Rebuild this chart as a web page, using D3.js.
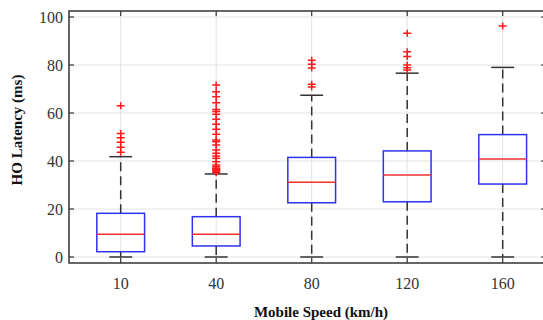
<!DOCTYPE html>
<html>
<head>
<meta charset="utf-8">
<script src="https://cdn.jsdelivr.net/npm/d3@7"></script>
<style>
  body { margin: 0; background: #fff; }
  svg { display: block; font-family: "Liberation Serif", "Times New Roman", serif; }
</style>
</head>
<body>
<div id="chart"></div>
<script>
// HO latency per mobile speed
const speeds = ['10', '40', '80', '120', '160'];
const q1 = [2.2, 4.6, 22.6, 23, 30.4];
const medians = [9.5, 9.5, 31.1, 34.2, 40.8];
const q3 = [18.2, 16.8, 41.5, 44.2, 51];
const whiskerLow = [0, 0, 0, 0, 0];
const whiskerHigh = [41.8, 34.6, 67.4, 76.6, 79];
const outliers = [
  [63, 51.5, 49.7, 47.8, 45.7, 43.6],
  [71.7, 68.9, 66.8, 64.3, 61.5, 60.6, 59.5, 57.4, 55.3, 53.2, 51.1, 48.75, 48, 46.7,
   44.6, 43.2, 42.1, 41.1, 39.7, 38.3, 37.6, 37, 36.6, 36.2, 35.8, 35.4, 35.1],
  [82, 80.3, 78.8, 72, 70.8],
  [93.2, 85.5, 83.5, 80, 78.9, 77.9],
  [96.3]
];
const yTicks = [0, 20, 40, 60, 80, 100];

const width = 543, height = 320;
const plotLeft = 69, plotTop = 11, plotRight = 546, plotBottom = 263;

const svg = d3.select('#chart').append('svg')
    .attr('width', width)
    .attr('height', height);

const x = d3.scaleLinear().domain([1, 5]).range([120.7, 502.7]);
const y = d3.scaleLinear().domain([-2.5, 102.5]).range([plotBottom, plotTop]);
const unit = x(2) - x(1);

// grid
svg.append('g').selectAll('line')
    .data(yTicks)
  .enter().append('line')
    .attr('x1', plotLeft).attr('x2', plotRight)
    .attr('y1', d => y(d)).attr('y2', d => y(d))
    .attr('stroke', '#e3e3e3').attr('stroke-width', 1);

svg.append('g').selectAll('line')
    .data(speeds)
  .enter().append('line')
    .attr('x1', (d, i) => x(i + 1)).attr('x2', (d, i) => x(i + 1))
    .attr('y1', plotTop).attr('y2', plotBottom)
    .attr('stroke', '#e3e3e3').attr('stroke-width', 1);

const groups = svg.append('g').selectAll('g.box')
    .data(speeds)
  .enter().append('g')
    .attr('class', 'box');

// whiskers
groups.append('line')
    .attr('x1', (d, i) => x(i + 1)).attr('x2', (d, i) => x(i + 1))
    .attr('y1', (d, i) => y(q3[i])).attr('y2', (d, i) => y(whiskerHigh[i]))
    .attr('stroke', '#333').attr('stroke-width', 1.5)
    .attr('stroke-dasharray', '9,5');

groups.append('line')
    .attr('x1', (d, i) => x(i + 1)).attr('x2', (d, i) => x(i + 1))
    .attr('y1', (d, i) => y(q1[i])).attr('y2', (d, i) => y(whiskerLow[i]))
    .attr('stroke', '#333').attr('stroke-width', 1.5)
    .attr('stroke-dasharray', '9,5');

[whiskerHigh, whiskerLow].forEach(arr => {
  groups.append('line')
      .attr('x1', (d, i) => x(i + 1) - unit * 0.12)
      .attr('x2', (d, i) => x(i + 1) + unit * 0.12)
      .attr('y1', (d, i) => y(arr[i])).attr('y2', (d, i) => y(arr[i]))
      .attr('stroke', '#333').attr('stroke-width', 1.5);
});

groups.append('rect')
    .attr('x', (d, i) => x(i + 1) - unit * 0.25)
    .attr('width', unit * 0.5)
    .attr('y', (d, i) => y(q3[i]))
    .attr('height', (d, i) => y(q1[i]) - y(q3[i]))
    .attr('fill', 'none')
    .attr('stroke', '#3030f0').attr('stroke-width', 1.5);

groups.append('line')
    .attr('x1', (d, i) => x(i + 1) - unit * 0.25)
    .attr('x2', (d, i) => x(i + 1) + unit * 0.25)
    .attr('y1', (d, i) => y(medians[i])).attr('y2', (d, i) => y(medians[i]))
    .attr('stroke', '#f03030').attr('stroke-width', 1.5);

// outliers as '+'
groups.each(function(d, i) {
  const cx = x(i + 1);
  d3.select(this).selectAll('path')
      .data(outliers[i])
    .enter().append('path')
      .attr('d', v => `M${cx - 4},${y(v)}H${cx + 4}M${cx},${y(v) - 3.5}V${y(v) + 3.5}`)
      .attr('stroke', '#ff1a1a').attr('stroke-width', 1.5)
      .attr('fill', 'none');
});

// frame
svg.append('rect')
    .attr('x', plotLeft).attr('y', plotTop)
    .attr('width', plotRight - plotLeft).attr('height', plotBottom - plotTop)
    .attr('fill', 'none').attr('stroke', '#333').attr('stroke-width', 1.5);

// inward ticks
const tickG = svg.append('g').attr('stroke', '#333').attr('stroke-width', 1.2);
yTicks.forEach(v => {
  tickG.append('line').attr('x1', plotLeft).attr('x2', plotLeft + 5).attr('y1', y(v)).attr('y2', y(v));
  tickG.append('line').attr('x1', plotRight).attr('x2', plotRight - 5).attr('y1', y(v)).attr('y2', y(v));
});
speeds.forEach((s, i) => {
  tickG.append('line').attr('x1', x(i + 1)).attr('x2', x(i + 1)).attr('y1', plotTop).attr('y2', plotTop + 5);
  tickG.append('line').attr('x1', x(i + 1)).attr('x2', x(i + 1)).attr('y1', plotBottom).attr('y2', plotBottom - 5);
});

// tick labels
svg.append('g').selectAll('text')
    .data(yTicks)
  .enter().append('text')
    .attr('x', plotLeft - 6)
    .attr('y', d => y(d) + 5.5)
    .attr('text-anchor', 'end')
    .attr('font-size', 16)
    .attr('fill', '#333')
    .text(d => d);

svg.append('g').selectAll('text')
    .data(speeds)
  .enter().append('text')
    .attr('x', (d, i) => x(i + 1))
    .attr('y', 289)
    .attr('text-anchor', 'middle')
    .attr('font-size', 16)
    .attr('fill', '#333')
    .text(d => d);

// axis titles
svg.append('text')
    .attr('x', 321).attr('y', 317)
    .attr('text-anchor', 'middle')
    .attr('font-size', 15).attr('font-weight', 'bold')
    .attr('fill', '#111')
    .text('Mobile Speed (km/h)');

svg.append('text')
    .attr('transform', 'translate(22,130) rotate(-90)')
    .attr('text-anchor', 'middle')
    .attr('font-size', 15).attr('font-weight', 'bold')
    .attr('fill', '#111')
    .text('HO Latency (ms)');
</script>
</body>
</html>
